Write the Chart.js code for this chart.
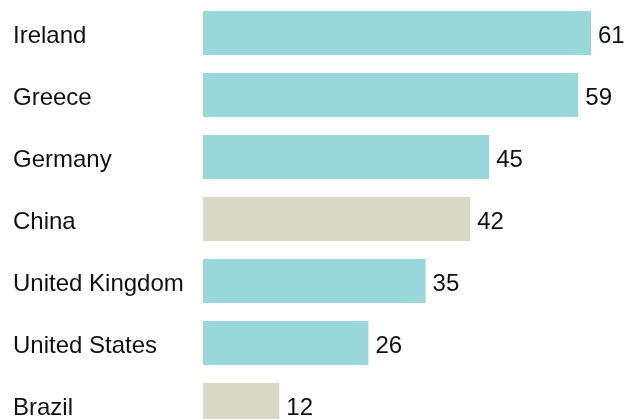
<!DOCTYPE html>
<html>
<head>
<meta charset="utf-8">
<script src="https://cdn.jsdelivr.net/npm/chart.js@4"></script>
<style>
  html, body { margin: 0; padding: 0; background: #fff; overflow: hidden; }
  #wrap { width: 625px; height: 419px; overflow: hidden; }
</style>
</head>
<body>
<div id="wrap"><canvas id="chart" width="625" height="436"></canvas></div>
<script>
const COUNTRIES = ["Ireland", "Greece", "Germany", "China", "United Kingdom", "United States", "Brazil"];
const VALUES = [61, 59, 45, 42, 35, 26, 12];
const HIGHLIGHT = ["China", "Brazil"];

const TEAL = "#99d7da";
const BEIGE = "#d9d8c5";
const FONT = "24px 'Liberation Sans', Arial, sans-serif";

// category names at the left edge, values just past the end of each bar
const labelsPlugin = {
  id: "barLabels",
  afterDatasetsDraw(chart){
    const ctx = chart.ctx;
    const meta = chart.getDatasetMeta(0);
    ctx.save();
    ctx.font = FONT;
    ctx.fillStyle = "#111";
    ctx.textBaseline = "alphabetic";
    ctx.textAlign = "left";
    meta.data.forEach((bar, i) => {
      const base = bar.y + 10;
      ctx.fillText(COUNTRIES[i], 13, base);
      ctx.fillText(String(VALUES[i]), bar.x + 7, base);
    });
    ctx.restore();
  }
};

new Chart(document.getElementById("chart"), {
  type: "bar",
  data: {
    labels: COUNTRIES,
    datasets: [{
      data: VALUES,
      backgroundColor: COUNTRIES.map(c => HIGHLIGHT.includes(c) ? BEIGE : TEAL),
      borderWidth: 0,
      categoryPercentage: 1,
      barPercentage: 0.71,
    }]
  },
  options: {
    indexAxis: "y",
    responsive: false,
    animation: false,
    layout: { padding: { left: 203, right: 34, top: 2, bottom: 0 } },
    plugins: { legend: { display: false }, tooltip: { enabled: false } },
    scales: {
      x: { display: false, min: 0, max: 61 },
      y: { display: false }
    }
  },
  plugins: [labelsPlugin]
});
</script>
</body>
</html>
